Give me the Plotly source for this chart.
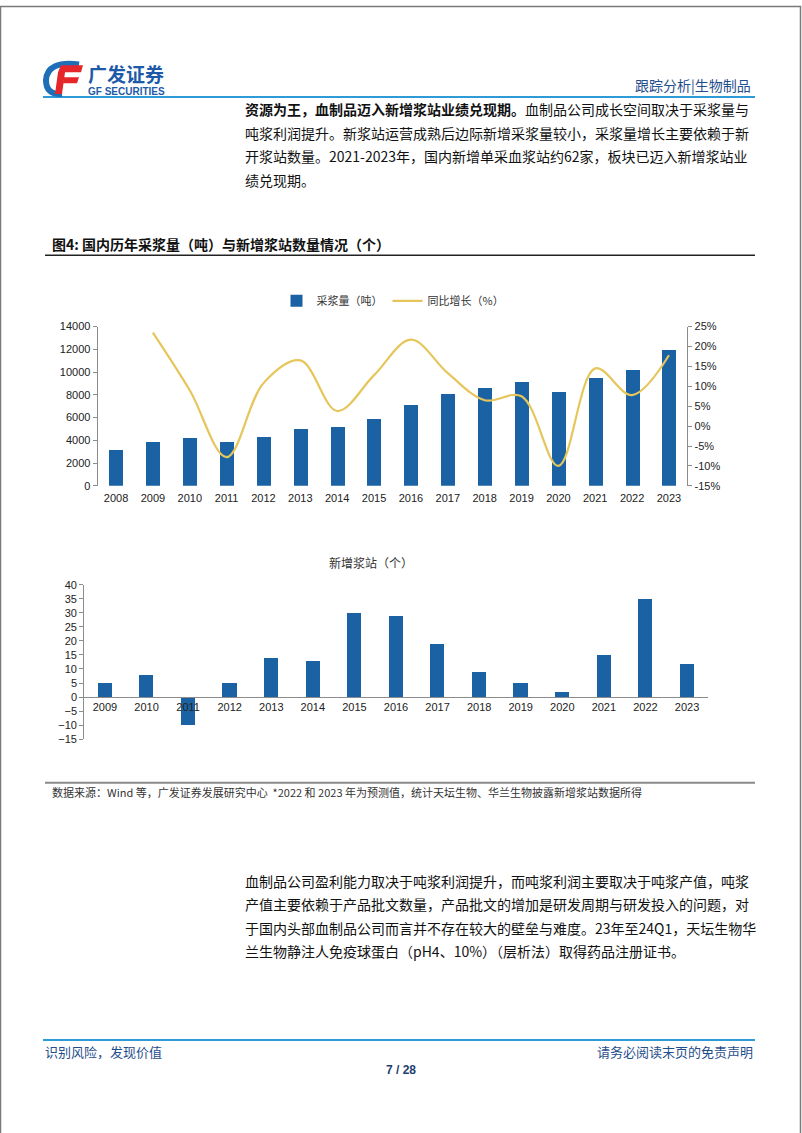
import plotly.graph_objects as go

W, H = 802, 1133

# ---------------- data ----------------
years_top = ["2008", "2009", "2010", "2011", "2012", "2013", "2014", "2015",
             "2016", "2017", "2018", "2019", "2020", "2021", "2022", "2023"]
plasma_tons = [3150, 3900, 4250, 3900, 4350, 5050, 5200, 5900,
               7150, 8100, 8650, 9200, 8300, 9500, 10200, 12000]
yoy_growth = [None, 23.5, 9.0, -7.8, 10.8, 16.5, 3.8, 12.8,
              21.7, 13.3, 6.5, 7.5, -10.0, 14.5, 7.8, 17.8]

years_bottom = ["2009", "2010", "2011", "2012", "2013", "2014", "2015", "2016",
                "2017", "2018", "2019", "2020", "2021", "2022", "2023"]
new_stations = [5, 8, -10, 5, 14, 13, 30, 29, 19, 9, 5, 2, 15, 35, 12]

left_ticks = [0, 2000, 4000, 6000, 8000, 10000, 12000, 14000]
right_ticks = [-15, -10, -5, 0, 5, 10, 15, 20, 25]
right_tick_labels = [f"{v}%" for v in right_ticks]
bottom_ticks = [-15, -10, -5, 0, 5, 10, 15, 20, 25, 30, 35, 40]

para1 = [
    "<b>资源为王，血制品迈入新增浆站业绩兑现期。</b>血制品公司成长空间取决于采浆量与",
    "吨浆利润提升。新浆站运营成熟后边际新增采浆量较小，采浆量增长主要依赖于新",
    "开浆站数量。2021-2023年，国内新增单采血浆站约62家，板块已迈入新增浆站业",
    "绩兑现期。",
]
para2 = [
    "血制品公司盈利能力取决于吨浆利润提升，而吨浆利润主要取决于吨浆产值，吨浆",
    "产值主要依赖于产品批文数量，产品批文的增加是研发周期与研发投入的问题，对",
    "于国内头部血制品公司而言并不存在较大的壁垒与难度。23年至24Q1，天坛生物华",
    "兰生物静注人免疫球蛋白（pH4、10%）（层析法）取得药品注册证书。",
]

# ---------------- style ----------------
CJK = "Noto Sans CJK SC"
LAT = "Liberation Sans, Arial, sans-serif"
BAR = "#1B62A4"
LINE = "#E6C65A"
AX = "#8C8C8C"


def X(px):
    return px / W


def Y(py):
    return 1 - py / H


fig = go.Figure()

# top chart
fig.add_trace(go.Bar(x=years_top, y=plasma_tons, name="采浆量（吨）",
                     marker=dict(color=BAR, line=dict(width=0)), width=0.38,
                     xaxis="x", yaxis="y"))
fig.add_trace(go.Scatter(x=years_top, y=yoy_growth, name="同比增长（%）",
                         mode="lines", line=dict(color=LINE, width=2.2, shape="spline", smoothing=1.0),
                         connectgaps=False, xaxis="x", yaxis="y2"))
# bottom chart
fig.add_trace(go.Bar(x=years_bottom, y=new_stations, name="新增浆站（个）",
                     marker=dict(color=BAR, line=dict(width=0)), width=0.34,
                     xaxis="x2", yaxis="y3", showlegend=False))

tickfont = dict(family=LAT, size=11, color="#222222")

fig.update_layout(
    width=W, height=H, autosize=False,
    margin=dict(l=0, r=0, t=0, b=0),
    paper_bgcolor="white", plot_bgcolor="rgba(0,0,0,0)",
    showlegend=True,
    legend=dict(orientation="h", x=X(393), xanchor="center", y=Y(298), yanchor="middle",
                font=dict(family=CJK, size=11, color="#333333"),
                itemwidth=30, tracegroupgap=0, bgcolor="rgba(0,0,0,0)"),
    bargap=0,
    xaxis=dict(domain=[X(97.6), X(687.4)], anchor="y", type="category",
               showline=False, ticks="", tickfont=tickfont, showgrid=False,
               zeroline=False, ticklabelstandoff=4),
    yaxis=dict(domain=[Y(485), Y(324)], anchor="x", range=[0, 14000],
               tickvals=left_ticks, tickformat="d", showline=True, linecolor=AX, linewidth=1,
               ticks="outside", ticklen=4, tickcolor=AX, tickfont=tickfont,
               showgrid=False, zeroline=False),
    yaxis2=dict(overlaying="y", side="right", anchor="x", range=[-15, 25],
                tickvals=right_ticks, ticktext=right_tick_labels, showline=True, linecolor=AX,
                linewidth=1, ticks="outside", ticklen=4, tickcolor=AX,
                tickfont=tickfont, showgrid=False, zeroline=False),
    xaxis2=dict(domain=[X(84.2), X(707.8)], anchor="free", position=Y(698),
                type="category", showline=True, linecolor=AX, linewidth=1,
                ticks="", tickfont=tickfont, showgrid=False, zeroline=False),
    yaxis3=dict(domain=[Y(741), Y(585)], anchor="x2", range=[-15, 40],
                tickvals=bottom_ticks, showline=True, linecolor=AX, linewidth=1,
                ticks="outside", ticklen=4, tickcolor=AX, tickfont=tickfont,
                showgrid=False, zeroline=False),
)

shapes = []
annotations = []

# page border
shapes.append(dict(type="rect", xref="paper", yref="paper", x0=X(0.5), x1=X(800.5),
                   y0=Y(1140), y1=Y(0.5), line=dict(color="#7A7A7A", width=1.5)))

# header line
shapes.append(dict(type="line", xref="paper", yref="paper", x0=X(43), x1=X(755),
                   y0=Y(92), y1=Y(92), line=dict(color="#2E9AD6", width=2)))
# logo icon
shapes.append(dict(type="path", xref="paper", yref="paper",
                   path=f"M {X(79)},{Y(59)} Q {X(47)},{Y(55)} {X(46)},{Y(75)} Q {X(46)},{Y(90)} {X(62)},{Y(89)}",
                   line=dict(color="#1E6FB8", width=6)))
shapes.append(dict(type="path", xref="paper", yref="paper",
                   path=f"M {X(61)},{Y(60)} L {X(83)},{Y(60)} L {X(81)},{Y(67)} L {X(65)},{Y(67)} L {X(62)},{Y(89)} L {X(55)},{Y(89)} L {X(58)},{Y(67)} Z",
                   fillcolor="#E5262B", line=dict(width=0)))
shapes.append(dict(type="path", xref="paper", yref="paper",
                   path=f"M {X(64)},{Y(72)} L {X(79)},{Y(72)} L {X(77)},{Y(78)} L {X(63)},{Y(78)} Z",
                   fillcolor="#E5262B", line=dict(width=0)))
annotations.append(dict(text="<b>广发证券</b>", x=X(86), y=Y(68), xref="paper", yref="paper",
                        xanchor="left", yanchor="middle", showarrow=False,
                        font=dict(family=CJK, size=19, color="#1E5AA8")))
annotations.append(dict(text="<b>GF SECURITIES</b>", x=X(86), y=Y(86.5), xref="paper", yref="paper",
                        xanchor="left", yanchor="middle", showarrow=False,
                        font=dict(family=LAT, size=10, color="#1E5AA8")))
annotations.append(dict(text="跟踪分析|生物制品", x=X(753), y=Y(80), xref="paper", yref="paper",
                        xanchor="right", yanchor="middle", showarrow=False,
                        font=dict(family=CJK, size=14, color="#1F4E8C")))

# paragraph 1
for i, line in enumerate(para1):
    annotations.append(dict(text=line, x=X(243), y=Y(104 + i * 24), xref="paper", yref="paper",
                            xanchor="left", yanchor="middle", showarrow=False,
                            font=dict(family=CJK, size=14, color="#111111")))

# chart title
annotations.append(dict(text="<b>图4: 国内历年采浆量（吨）与新增浆站数量情况（个）</b>", x=X(50), y=Y(241),
                        xref="paper", yref="paper", xanchor="left", yanchor="middle",
                        showarrow=False, font=dict(family=CJK, size=14, color="#111111")))
shapes.append(dict(type="line", xref="paper", yref="paper", x0=X(45), x1=X(755),
                   y0=Y(252), y1=Y(252), line=dict(color="#222222", width=1.5)))

# bottom chart title
annotations.append(dict(text="新增浆站（个）", x=X(371), y=Y(562), xref="paper", yref="paper",
                        xanchor="center", yanchor="middle", showarrow=False,
                        font=dict(family=CJK, size=12, color="#333333")))

# source
shapes.append(dict(type="line", xref="paper", yref="paper", x0=X(45), x1=X(755),
                   y0=Y(785), y1=Y(785), line=dict(color="#8A8A8A", width=2)))
annotations.append(dict(text="数据来源：Wind 等，广发证券发展研究中心  *2022 和 2023 年为预测值，统计天坛生物、华兰生物披露新增浆站数据所得",
                        x=X(50), y=Y(794), xref="paper", yref="paper", xanchor="left",
                        yanchor="middle", showarrow=False,
                        font=dict(family=CJK, size=11, color="#333333")))

# paragraph 2
for i, line in enumerate(para2):
    annotations.append(dict(text=line, x=X(243), y=Y(884 + i * 23.7), xref="paper", yref="paper",
                            xanchor="left", yanchor="middle", showarrow=False,
                            font=dict(family=CJK, size=14, color="#111111")))

# footer
shapes.append(dict(type="line", xref="paper", yref="paper", x0=X(43), x1=X(755),
                   y0=Y(1045), y1=Y(1045), line=dict(color="#2E9AD6", width=2)))
annotations.append(dict(text="识别风险，发现价值", x=X(43), y=Y(1057), xref="paper", yref="paper",
                        xanchor="left", yanchor="middle", showarrow=False,
                        font=dict(family=CJK, size=13, color="#1F4E8C")))
annotations.append(dict(text="请务必阅读末页的免责声明", x=X(755), y=Y(1057), xref="paper", yref="paper",
                        xanchor="right", yanchor="middle", showarrow=False,
                        font=dict(family=CJK, size=13, color="#1F4E8C")))
annotations.append(dict(text="<b>7 / 28</b>", x=X(401), y=Y(1075), xref="paper", yref="paper",
                        xanchor="center", yanchor="middle", showarrow=False,
                        font=dict(family=LAT, size=12, color="#1F3E6E")))

fig.update_layout(shapes=shapes, annotations=annotations)

fig.write_html("out.html")
